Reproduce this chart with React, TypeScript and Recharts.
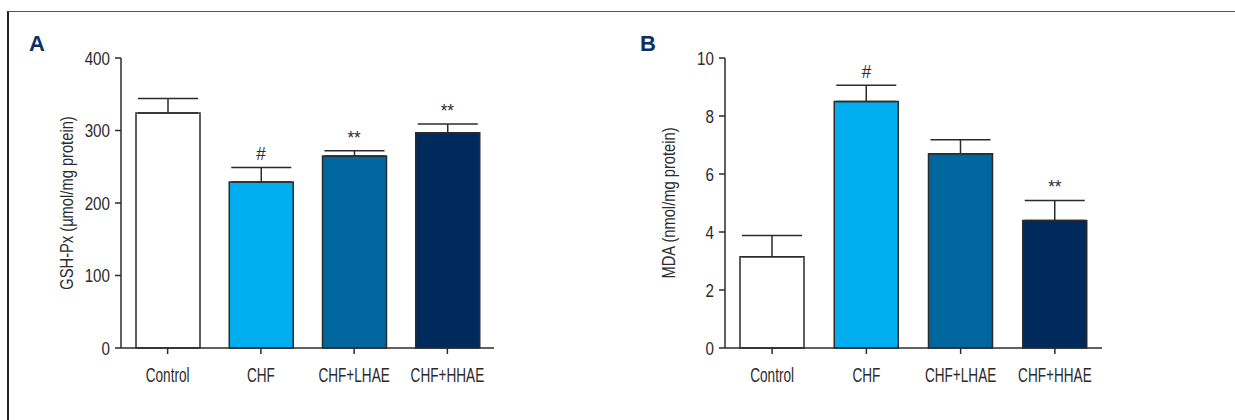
import React from 'react';
import { BarChart, Bar, XAxis, YAxis, ErrorBar, Cell, ReferenceDot } from 'recharts';

const categories = ['Control', 'CHF', 'CHF+LHAE', 'CHF+HHAE'];
const barColors = ['#ffffff', '#00aeef', '#00679e', '#002a5c'];

// panel A - GSH-Px
const gshMean = [324, 229, 265, 297];
const gshErr = [20, 20, 7, 12];
const gshSig = ['', '#', '**', '**'];
const gshTicks = [0, 100, 200, 300, 400];

// panel B - MDA
const mdaMean = [3.15, 8.5, 6.7, 4.4];
const mdaErr = [0.73, 0.56, 0.48, 0.69];
const mdaSig = ['', '#', '', '**'];
const mdaTicks = [0, 2, 4, 6, 8, 10];

const FONT = "'Liberation Sans', Arial, sans-serif";
const INK = '#2b2b2b';

// condensed look: squeeze the glyphs horizontally
const XTick = (props: any) => {
  const { x, y, payload } = props;
  return (
    <g transform={`translate(${x},${y})`}>
      <text x={0} y={0} dy="0.71em" textAnchor="middle" fill={INK} fontSize={20} fontFamily={FONT} transform="scale(0.68,1)">
        {payload.value}
      </text>
    </g>
  );
};

const YTick = (props: any) => {
  const { x, y, payload } = props;
  return (
    <g transform={`translate(${x},${y})`}>
      <text x={0} y={0} dy="0.36em" textAnchor="end" fill={INK} fontSize={19} fontFamily={FONT} transform="scale(0.8,1)">
        {payload.value}
      </text>
    </g>
  );
};

const YLabel = (props: any) => {
  const { viewBox, value, offset } = props;
  const cx = viewBox.x + offset;
  const cy = viewBox.y + viewBox.height / 2;
  return (
    <g transform={`translate(${cx},${cy}) rotate(-90)`}>
      <text x={0} y={0} dy="0.36em" textAnchor="middle" fill={INK} fontSize={17.5} fontFamily={FONT} transform="scale(0.84,1)">
        {value}
      </text>
    </g>
  );
};

const SigLabel = (props: any) => {
  const { viewBox, value } = props;
  const cx = viewBox.x + (viewBox.width || 0) / 2;
  const cy = viewBox.y - 7;
  return (
    <g transform={`translate(${cx},${cy})`}>
      <text x={0} y={0} textAnchor="middle" fill={INK} fontSize={19} fontFamily={FONT} transform="scale(0.9,1)">
        {value}
      </text>
    </g>
  );
};

interface PanelProps {
  letter: string;
  mean: number[];
  err: number[];
  sig: string[];
  ticks: number[];
  yLabel: string;
  left: number;
  width: number;
  marginLeft: number;
  marginRight: number;
  labelOffset: number;
  letterX: number;
}

const Panel: React.FC<PanelProps> = ({
  letter, mean, err, sig, ticks, yLabel, left, width, marginLeft, marginRight, labelOffset, letterX,
}) => {
  const data = categories.map((name, i) => ({
    name,
    value: mean[i],
    range: [0, err[i]],
  }));
  const yMax = ticks[ticks.length - 1];

  return (
    <div style={{ position: 'absolute', left, top: 0, width, height: 420 }}>
      <div
        style={{
          position: 'absolute',
          left: letterX,
          top: 31,
          fontFamily: FONT,
          fontWeight: 'bold',
          fontSize: 22,
          color: '#0d2f62',
        }}
      >
        {letter}
      </div>
      <BarChart
        width={width}
        height={420}
        data={data}
        margin={{ top: 58, right: marginRight, left: marginLeft, bottom: 32 }}
        barCategoryGap={0}
      >
        <XAxis
          dataKey="name"
          type="category"
          height={40}
          tickSize={6}
          tickMargin={14}
          axisLine={{ stroke: INK, strokeWidth: 1.5 }}
          tickLine={{ stroke: INK, strokeWidth: 1.5 }}
          tick={<XTick />}
        />
        <YAxis
          type="number"
          width={60}
          domain={[0, yMax]}
          ticks={ticks}
          tickSize={6}
          tickMargin={5}
          interval={0}
          axisLine={{ stroke: INK, strokeWidth: 1.5 }}
          tickLine={{ stroke: INK, strokeWidth: 1.5 }}
          tick={<YTick />}
          label={{ value: yLabel, position: 'insideLeft', offset: labelOffset, content: <YLabel /> }}
        />
        <Bar dataKey="value" barSize={64} stroke={INK} strokeWidth={1.5} isAnimationActive={false}>
          {data.map((d, i) => (
            <Cell key={d.name} fill={barColors[i]} />
          ))}
          <ErrorBar dataKey="range" width={30} stroke={INK} strokeWidth={1.5} direction="y" isAnimationActive={false} />
        </Bar>
        {categories.map((c, i) =>
          sig[i] ? (
            <ReferenceDot
              key={c}
              x={c}
              y={mean[i] + err[i]}
              r={0}
              fill="none"
              stroke="none"
              label={{ value: sig[i], position: 'top', content: <SigLabel /> }}
            />
          ) : null
        )}
      </BarChart>
    </div>
  );
};

const App: React.FC = () => {
  return (
    <div style={{ position: 'absolute', left: 0, top: 0, width: 1235, height: 420, background: '#fff', overflow: 'hidden' }}>
      <div
        style={{
          position: 'absolute',
          left: 7,
          top: 11,
          width: 1240,
          height: 420,
          borderTop: '1.5px solid #555',
          borderLeft: '2px solid #222',
        }}
      />
      <Panel
        letter="A"
        mean={gshMean}
        err={gshErr}
        sig={gshSig}
        ticks={gshTicks}
        yLabel="GSH-Px (µmol/mg protein)"
        left={0}
        width={620}
        marginLeft={61}
        marginRight={126}
        labelOffset={6}
        letterX={29}
      />
      <Panel
        letter="B"
        mean={mdaMean}
        err={mdaErr}
        sig={mdaSig}
        ticks={mdaTicks}
        yLabel="MDA (nmol/mg protein)"
        left={620}
        width={615}
        marginLeft={45}
        marginRight={133}
        labelOffset={4}
        letterX={20}
      />
    </div>
  );
};

export default App;
